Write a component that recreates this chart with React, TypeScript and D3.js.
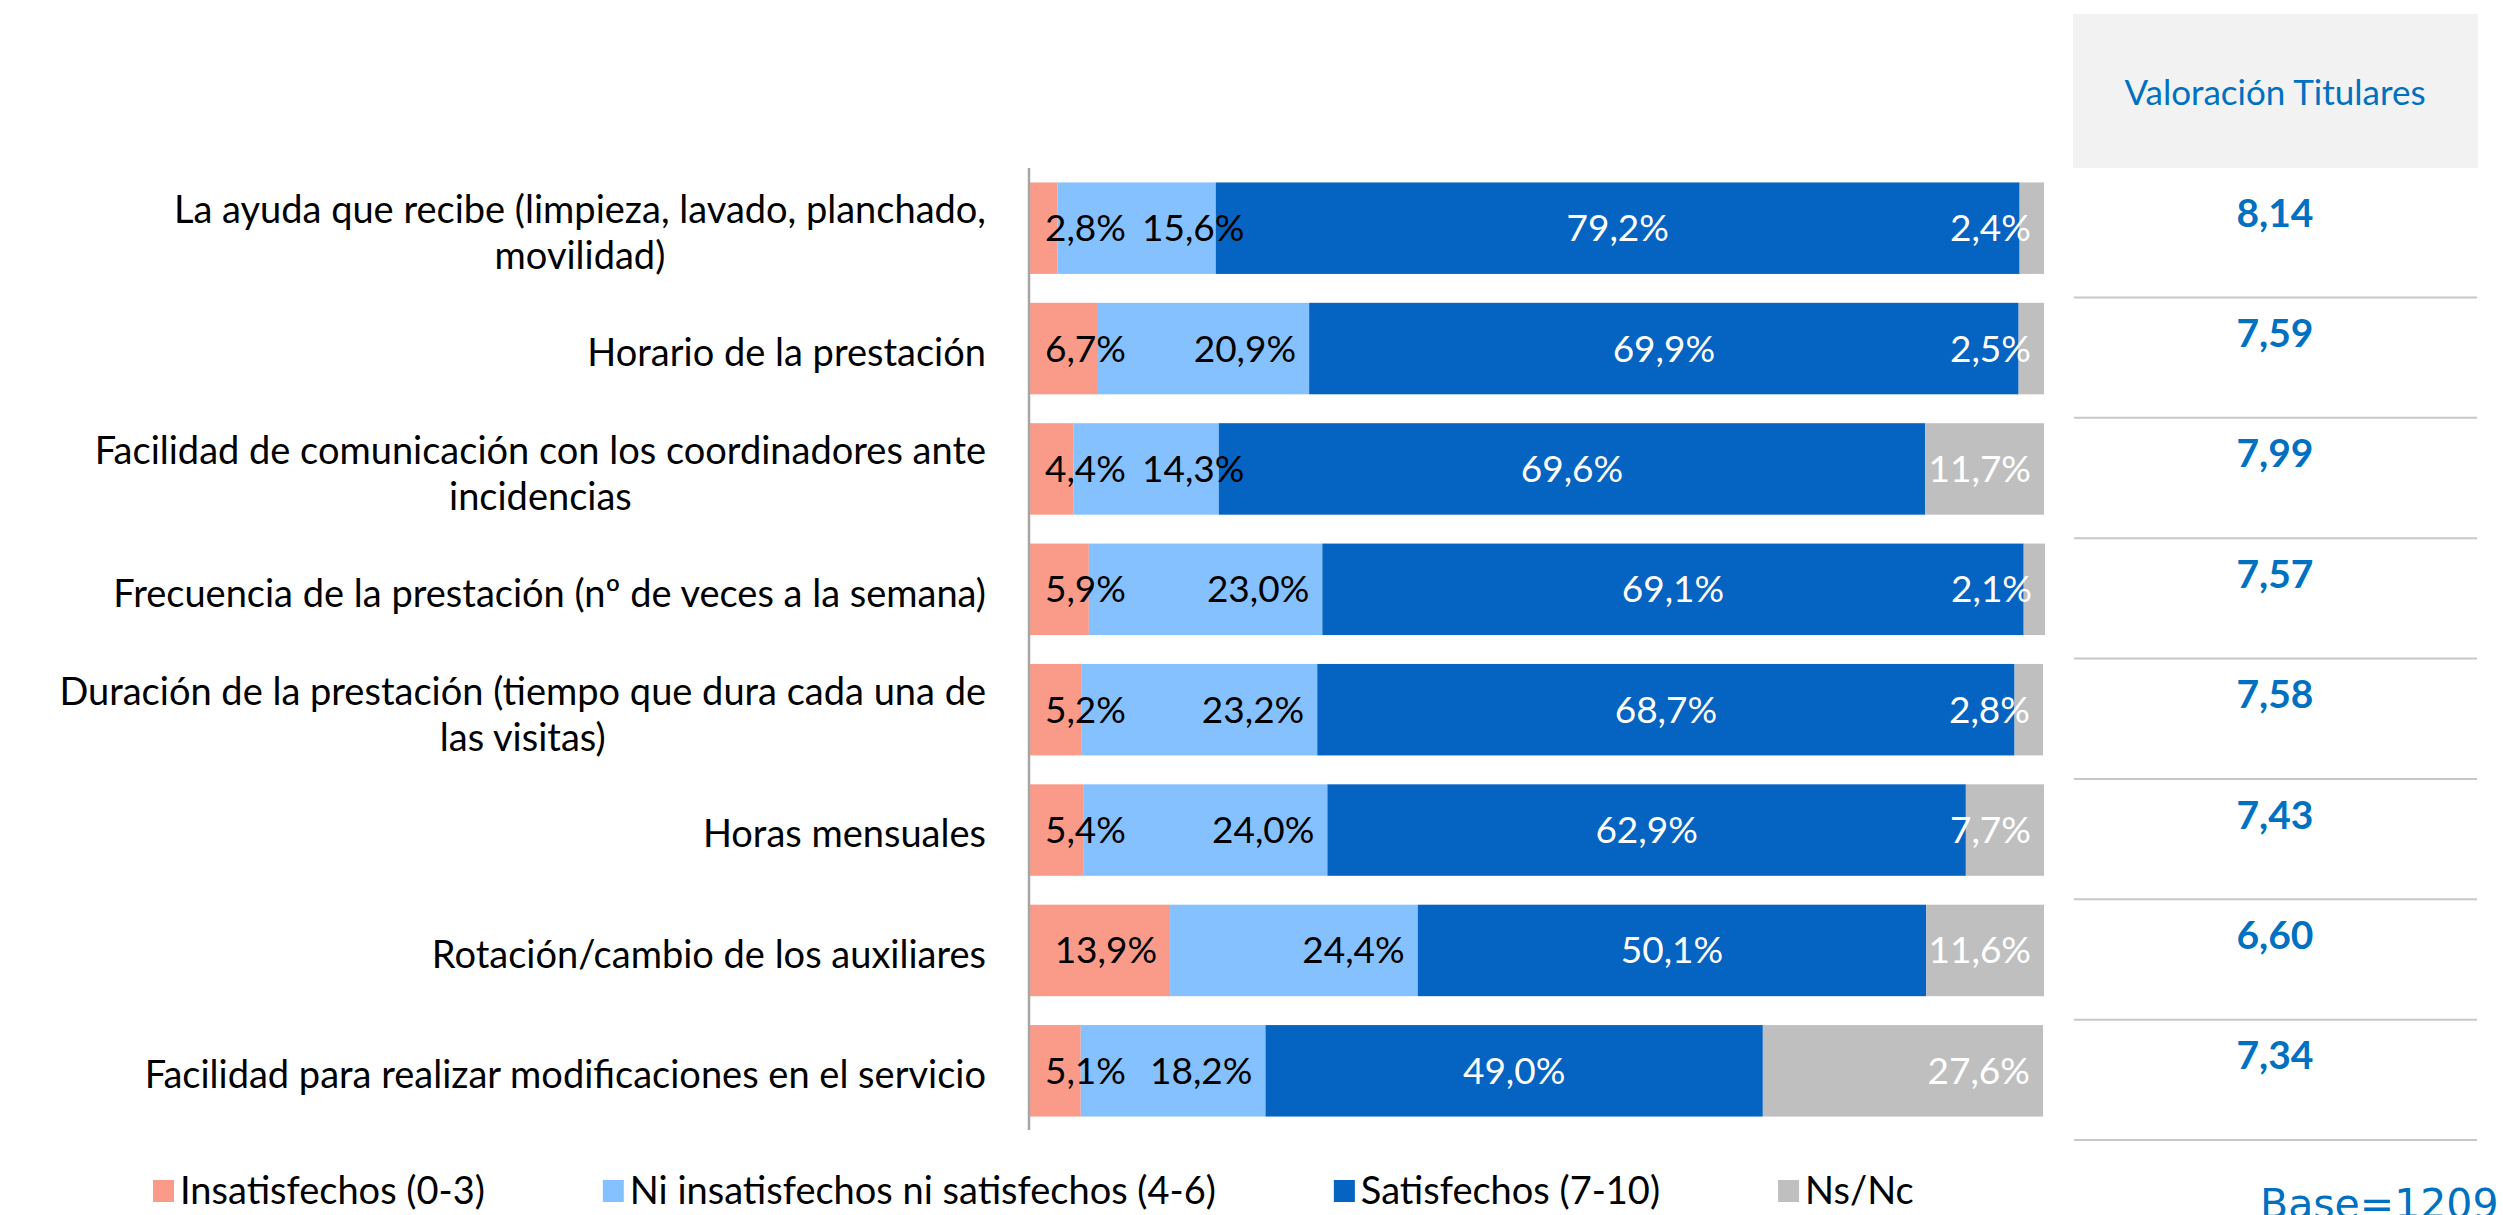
import React from 'react';
import * as d3 from 'd3';

// categories (multi-line labels split with '\n')
const categories = [
  'La ayuda que recibe (limpieza, lavado, planchado,\nmovilidad)',
  'Horario de la prestación',
  'Facilidad de comunicación con los coordinadores ante\nincidencias',
  'Frecuencia de la prestación (nº de veces a la semana)',
  'Duración de la prestación (tiempo que dura cada una de\nlas visitas)',
  'Horas mensuales',
  'Rotación/cambio de los auxiliares',
  'Facilidad para realizar modificaciones en el servicio',
];

const insatisfechos = [2.8, 6.7, 4.4, 5.9, 5.2, 5.4, 13.9, 5.1];
const niNi = [15.6, 20.9, 14.3, 23.0, 23.2, 24.0, 24.4, 18.2];
const satisfechos = [79.2, 69.9, 69.6, 69.1, 68.7, 62.9, 50.1, 49.0];
const nsnc = [2.4, 2.5, 11.7, 2.1, 2.8, 7.7, 11.6, 27.6];

const valoracion = ['8,14', '7,59', '7,99', '7,57', '7,58', '7,43', '6,60', '7,34'];

const seriesNames = ['Insatisfechos (0-3)', 'Ni insatisfechos ni satisfechos (4-6)', 'Satisfechos (7-10)', 'Ns/Nc'];
const keys = ['ins', 'ni', 'sat', 'ns'];
const colors = ['#F99B88', '#85C1FF', '#0563C1', '#BFBFBF'];
const labelColors = ['#000', '#000', '#fff', '#fff'];

const W = 2503;
const H = 1215;
const FONT = 'Lato, "Open Sans", sans-serif';

let ctx: CanvasRenderingContext2D | null = null;
const measure = (txt: string, size: number, weight = 'normal') => {
  if (!ctx) ctx = document.createElement('canvas').getContext('2d');
  if (!ctx) return txt.length * size * 0.5;
  ctx.font = `${weight} ${size}px Lato`;
  return ctx.measureText(txt).width;
};

const fmt = (v: number) => v.toFixed(1).replace('.', ',') + '%';

const App = () => {
  const rows = categories.map((c, i) => ({
    cat: c, ins: insatisfechos[i], ni: niNi[i], sat: satisfechos[i], ns: nsnc[i],
  }));
  const stacked = d3.stack<any>().keys(keys)(rows);

  const x = d3.scaleLinear().domain([0, 100]).range([1029, 2044]);
  const y = d3.scaleBand().domain(categories).range([168, 1131])
    .paddingInner(0.24).paddingOuter(0.12);
  const step = y.step();

  const labelSize = 37;
  const catSize = 38;
  const legSize = 38;
  const pad = 13;

  // data labels, placed like excel: inside end, small ones pushed over
  const dataLabels: any[] = [];
  rows.forEach((r, i) => {
    let prevRight = -Infinity;
    keys.forEach((k, j) => {
      const seg = stacked[j][i];
      const x0 = x(seg[0]);
      const x1 = x(seg[1]);
      const txt = fmt(r[k]);
      const w = measure(txt, labelSize);
      let left;
      if (j === 2) left = (x0 + x1) / 2 - w / 2;
      else left = x1 - pad - w;
      if (j === 0) left = Math.max(left, x0 + 16);
      if (j === 1) left = Math.max(left, prevRight + 16);
      prevRight = left + w;
      dataLabels.push({ txt, x: left, y: (y(r.cat) as number) + y.bandwidth() / 2, fill: labelColors[j], key: `${i}-${j}` });
    });
  });

  // legend layout
  let lx = 153;
  const legend = seriesNames.map((n, i) => {
    const item = { n, x: lx, color: colors[i] };
    lx += 27 + measure(n, legSize) + 118;
    return item;
  });

  return (
    <div style={{ position: 'absolute', left: 0, top: 0 }}>
      <svg width={W} height={H} style={{ display: 'block', background: '#fff' }} fontFamily={FONT}>
        {/* bars */}
        {stacked.map((s, j) => (
          <g key={keys[j]} fill={colors[j]}>
            {s.map((d, i) => (
              <rect key={i} x={x(d[0])} y={y(categories[i])} width={x(d[1]) - x(d[0])} height={y.bandwidth()} />
            ))}
          </g>
        ))}

        {/* axis line */}
        <line x1={1029} x2={1029} y1={168} y2={1130} stroke="#A6A6A6" strokeWidth={2.5} />

        {/* data labels */}
        {dataLabels.map(l => (
          <text key={l.key} x={l.x} y={l.y} dy="0.35em" fontSize={labelSize} fill={l.fill}>{l.txt}</text>
        ))}

        {/* category labels */}
        {categories.map((c) => {
          const lines = c.split('\n');
          const maxW = d3.max(lines, ln => measure(ln, catSize)) as number;
          const cy = (y(c) as number) + y.bandwidth() / 2;
          const right = 986;
          if (lines.length === 1) {
            return <text key={c} x={right} y={cy + 4} dy="0.35em" textAnchor="end" fontSize={catSize} fill="#000">{c}</text>;
          }
          return (
            <text key={c} x={right - maxW / 2} y={cy - 18} textAnchor="middle" fontSize={catSize} fill="#000">
              {lines.map((ln, k) => (
                <tspan key={k} x={right - maxW / 2} dy={k === 0 ? '0.35em' : 46}>{ln}</tspan>
              ))}
            </text>
          );
        })}

        {/* right table */}
        <rect x={2073} y={14} width={405} height={154} fill="#F2F2F2" />
        <text x={2275} y={93} dy="0.35em" textAnchor="middle" fontSize={35} fill="#0070C0">Valoración Titulares</text>
        {categories.map((c, i) => (
          <g key={c}>
            <text x={2275} y={(y(c) as number) - step * 0.12 + 45} dy="0.35em" textAnchor="middle"
              fontSize={39} fontWeight="bold" fill="#0070C0">{valoracion[i]}</text>
            <line x1={2074} x2={2477} y1={(y(c) as number) - step * 0.12 + step + 9} y2={(y(c) as number) - step * 0.12 + step + 9}
              stroke="#C8C8C8" strokeWidth={2} />
          </g>
        ))}

        {/* legend */}
        {legend.map(l => (
          <g key={l.n}>
            <rect x={l.x} y={1180} width={21} height={22} fill={l.color} />
            <text x={l.x + 27} y={1191} dy="0.35em" fontSize={legSize} fill="#000">{l.n}</text>
          </g>
        ))}

        <text x={2260} y={1218} fontSize={41} fill="#0070C0" fontFamily='"DejaVu Sans", Verdana, sans-serif'>Base=1209</text>
      </svg>
    </div>
  );
};

export default App;
